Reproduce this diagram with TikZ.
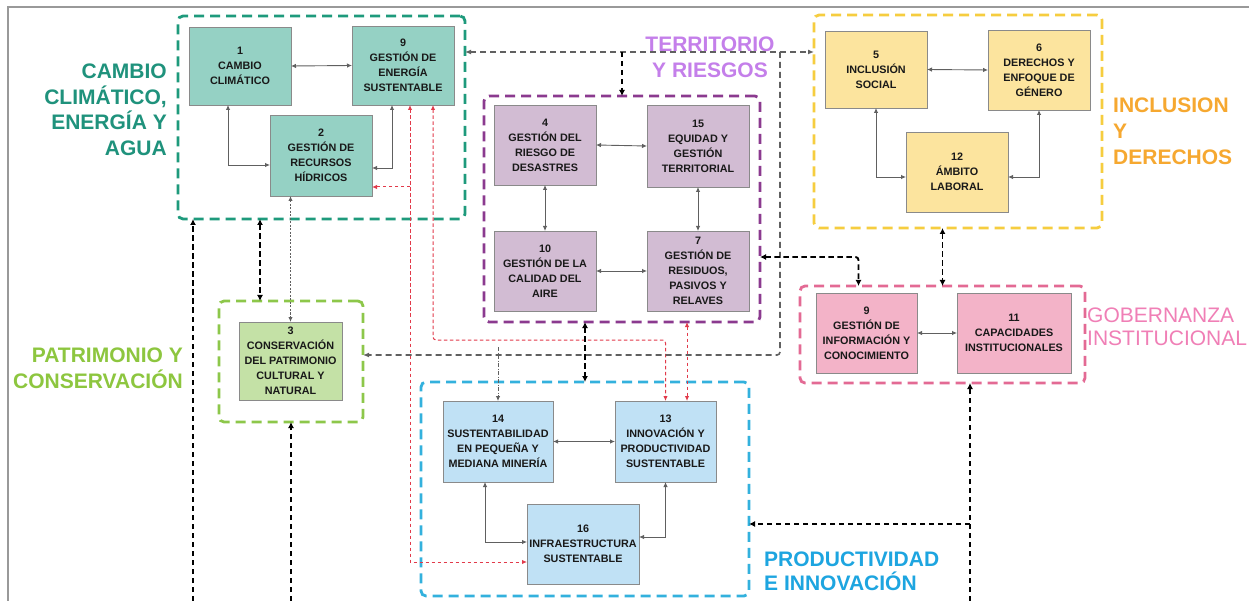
\documentclass[tikz,border=0pt]{standalone}
\usepackage{fontspec}
\setmainfont{Liberation Sans}
\usetikzlibrary{arrows.meta,calc}
\definecolor{tealD}{HTML}{1E9A7C}
\definecolor{tealF}{HTML}{95D1C4}
\definecolor{tealT}{HTML}{1F927C}
\definecolor{purD}{HTML}{8B3A8F}
\definecolor{purF}{HTML}{D2BCD3}
\definecolor{purT}{HTML}{C47FEA}
\definecolor{yelD}{HTML}{F6CD3F}
\definecolor{yelF}{HTML}{FCE49E}
\definecolor{oraT}{HTML}{F6A830}
\definecolor{pinD}{HTML}{E36A94}
\definecolor{pinF}{HTML}{F3B3C8}
\definecolor{pinT}{HTML}{F07FB6}
\definecolor{grnD}{HTML}{8DC74A}
\definecolor{grnF}{HTML}{C4E1A6}
\definecolor{grnT}{HTML}{8DC63F}
\definecolor{bluD}{HTML}{33B1DD}
\definecolor{bluF}{HTML}{C0E1F5}
\definecolor{bluT}{HTML}{1DA5E0}
\definecolor{redA}{HTML}{E23A4A}
\definecolor{grayA}{HTML}{606060}
\definecolor{boxE}{HTML}{8A8A8A}
\begin{document}
\begin{tikzpicture}[x=1pt,y=-1pt,
  bx/.style={draw=boxE, line width=0.7pt, align=center, inner sep=1pt, outer sep=0pt,
     font=\bfseries\fontsize{10.8}{15}\selectfont, text=black!90},
  grp/.style={line width=2.8pt, dash pattern=on 10pt off 6pt, rounded corners=5pt, inner sep=0pt, outer sep=0pt},
  lbl/.style={font=\bfseries\fontsize{21}{25.5}\selectfont, inner sep=0pt},
  garr/.style={draw=grayA, line width=0.9pt, >={Latex[length=5pt,width=4.5pt]}},
  barr/.style={draw=black, line width=1.9pt, dash pattern=on 5.5pt off 3.5pt, >={Latex[length=6pt,width=6pt]}},
  rarr/.style={draw=redA, line width=1pt, dash pattern=on 3.5pt off 2.5pt, >={Latex[length=5pt,width=4.5pt]}},
  gdash/.style={draw=grayA, line width=1.6pt, dash pattern=on 6pt off 4pt, >={Latex[length=6pt,width=5pt]}},
  gdot/.style={draw=grayA, line width=1pt, dash pattern=on 2pt off 1.5pt, >={Latex[length=5pt,width=4.5pt]}}
]
\useasboundingbox (0,0) rectangle (1249,601);
\fill[white] (0,0) rectangle (1249,601);
\draw[black!40, line width=1.5pt] (8,601) -- (8,7) -- (1249,7);

% groups
\node[grp, draw=tealD, minimum width=287pt, minimum height=203pt] (G1) at (321.5,117.5) {};
\node[grp, draw=purD, minimum width=276pt, minimum height=226pt] (GP) at (622,209) {};
\node[grp, draw=yelD, minimum width=288pt, minimum height=213pt] (GY) at (958,121.5) {};
\node[grp, draw=pinD, minimum width=285pt, minimum height=97pt] (GG) at (942.5,334.5) {};
\node[grp, draw=grnD, minimum width=144pt, minimum height=121pt] (GC) at (291,361.5) {};
\node[grp, draw=bluD, minimum width=328pt, minimum height=214pt] (GB) at (585,489) {};

% boxes
\node[bx, fill=tealF, minimum width=102pt, minimum height=78pt] (c1) at (240,66) {1\\CAMBIO\\CLIMÁTICO};
\node[bx, fill=tealF, minimum width=102pt, minimum height=79pt] (c9) at (403,65.5) {9\\GESTIÓN DE\\ENERGÍA\\SUSTENTABLE};
\node[bx, fill=tealF, minimum width=102pt, minimum height=81pt] (c2) at (321,155.5) {2\\GESTIÓN DE\\RECURSOS\\HÍDRICOS};
\node[bx, fill=purF, minimum width=102pt, minimum height=80pt] (p4) at (545,145) {4\\GESTIÓN DEL\\RIESGO DE\\DESASTRES};
\node[bx, fill=purF, minimum width=102pt, minimum height=82pt] (p15) at (698,146) {15\\EQUIDAD Y\\GESTIÓN\\TERRITORIAL};
\node[bx, fill=purF, minimum width=102pt, minimum height=80pt] (p10) at (545,271) {10\\GESTIÓN DE LA\\CALIDAD DEL\\AIRE};
\node[bx, fill=purF, minimum width=102pt, minimum height=80pt] (p7) at (698,271) {7\\GESTIÓN DE\\RESIDUOS,\\PASIVOS Y\\RELAVES};
\node[bx, fill=yelF, minimum width=102pt, minimum height=77pt] (y5) at (876,69.5) {5\\INCLUSIÓN\\SOCIAL};
\node[bx, fill=yelF, minimum width=102pt, minimum height=80pt] (y6) at (1039,70) {6\\DERECHOS Y\\ENFOQUE DE\\GÉNERO};
\node[bx, fill=yelF, minimum width=102pt, minimum height=80pt] (y12) at (957,172) {12\\ÁMBITO\\LABORAL};
\node[bx, fill=pinF, minimum width=101pt, minimum height=80pt] (g9) at (866.5,333) {9\\GESTIÓN DE\\INFORMACIÓN Y\\CONOCIMIENTO};
\node[bx, fill=pinF, minimum width=114pt, minimum height=80pt] (g11) at (1014,333) {11\\CAPACIDADES\\INSTITUCIONALES};
\node[bx, fill=grnF, minimum width=103pt, minimum height=78pt] (k3) at (290.5,361) {3\\CONSERVACIÓN\\DEL PATRIMONIO\\CULTURAL Y\\NATURAL};
\node[bx, fill=bluF, minimum width=110pt, minimum height=81pt] (b14) at (498,441.5) {14\\SUSTENTABILIDAD\\EN PEQUEÑA Y\\MEDIANA MINERÍA};
\node[bx, fill=bluF, minimum width=101pt, minimum height=81pt] (b13) at (665.5,441.5) {13\\INNOVACIÓN Y\\PRODUCTIVIDAD\\SUSTENTABLE};
\node[bx, fill=bluF, minimum width=112pt, minimum height=80pt] (b16) at (583,544) {16\\INFRAESTRUCTURA\\SUSTENTABLE};

% coordinates
\coordinate (hy) at (0,52);
\coordinate (bot) at (0,601);
\coordinate (rj) at (410,187);
\coordinate (rk) at (665.5,340);
\coordinate (vx) at (780,355);
\coordinate (k7) at (760,257);
\coordinate (bj) at (970,524);

% inner gray connectors
\draw[garr,<->] (c1.east) -- (c9.west);
\draw[garr,<->] ([xshift=-12pt]c1.south) |- ([yshift=-9.5pt]c2.west);
\draw[garr,<->] ([xshift=-11pt]c9.south) |- ([yshift=-12.5pt]c2.east);
\draw[garr,<->] (p4.east) -- (p15.west);
\draw[garr,<->] (p4.south) -- (p10.north);
\draw[garr,<->] (p15.south) -- (p7.north);
\draw[garr,<->] (p10.east) -- (p7.west);
\draw[garr,<->] (y5.east) -- (y6.west);
\draw[garr,<->] (y5.south) |- ([yshift=-5pt]y12.west);
\draw[garr,<->] (y6.south) |- ([yshift=-5pt]y12.east);
\draw[garr,<->] (g9.east) -- (g11.west);
\draw[garr,<->] (b14.east) -- (b13.west);
\draw[garr,<->] ([xshift=-13pt]b14.south) |- ([yshift=2pt]b16.west);
\draw[garr,<->] (b13.south) |- ([yshift=7pt]b16.east);

% red connectors
\draw[rarr,<->] ([xshift=7pt]c9.south) |- ([yshift=-18pt]b16.west);
\draw[rarr,->] (rj) -- (rj -| c2.east);
\draw[rarr,<->, rounded corners=3pt] ([xshift=30pt]c9.south) |- (rk) -- (b13.north);
\draw[rarr,<->] ([xshift=21.5pt]b13.north |- GP.south) -- ([xshift=21.5pt]b13.north);

% gray dashed
\draw[gdash,<->] (G1.east |- hy) -- (GY.west |- hy);
\draw[gdash,->, rounded corners=3pt] (vx |- hy) -- (vx) -- (vx -| GC.east);
\draw[draw=grayA, line width=0.8pt, dash pattern=on 4pt off 1.5pt on 1pt off 1.5pt, -{Latex[length=5pt,width=4.5pt]}] ([yshift=8pt]b14.north |- vx) -- (b14.north);
\draw[gdot,<->] (k3.north |- c2.south) -- (k3.north);

% black dashed
\draw[barr,->, line width=1.4pt] (GP.north |- hy) -- (GP.north);
\draw[barr,<->] ([xshift=-31pt]GC.north |- G1.south) -- ([xshift=-31pt]GC.north);
\draw[barr,->] ([xshift=15pt]G1.south west |- bot) -- ([xshift=15pt]G1.south west);
\draw[barr,->] (GC.south |- bot) -- (GC.south);
\draw[barr,<->, line width=2.3pt] (GB.north |- GP.south) -- (GB.north);
\draw[barr,<->, rounded corners=3pt] (k7) -| ([xshift=-8pt]g9.north |- GG.north);
\draw[barr,<->] (GG.north |- GY.south) -- (GG.north);
\draw[barr,->] ([xshift=27.5pt]GG.south |- bot) -- ([xshift=27.5pt]GG.south);
\draw[barr,->] (bj) -- (bj -| GB.east);

% labels
\node[lbl, text=tealT, anchor=east, align=right] (L1) at (167,110) {CAMBIO\\CLIMÁTICO,\\ENERGÍA Y\\AGUA};
\node[lbl, text=purT, align=center] (L2) at (710,57.5) {TERRITORIO\\Y RIESGOS};
\node[lbl, text=oraT, anchor=west, align=left, font=\bfseries\fontsize{21}{26}\selectfont] (L3) at (1113,131) {INCLUSION\\Y\\DERECHOS};
\node[lbl, text=pinT, anchor=west, align=left, font=\fontsize{21}{23}\selectfont] (L4) at (1087,326.5) {GOBERNANZA\\INSTITUCIONAL};
\node[lbl, text=grnT, anchor=east, align=right, font=\bfseries\fontsize{21}{26}\selectfont] (L5) at (183,368) {PATRIMONIO Y\\CONSERVACIÓN};
\node[lbl, text=bluT, anchor=west, align=left, font=\bfseries\fontsize{21}{24}\selectfont] (L6) at (764,571) {PRODUCTIVIDAD\\E INNOVACIÓN};
\end{tikzpicture}
\end{document}
